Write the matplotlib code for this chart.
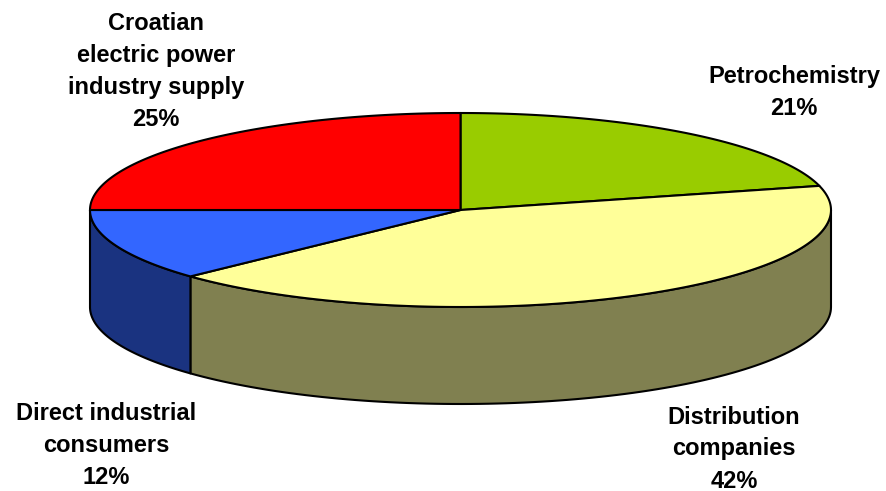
import numpy as np
import matplotlib.pyplot as plt
from matplotlib.patches import Polygon

# data
labels = ['Petrochemistry', 'Distribution\ncompanies', 'Direct industrial\nconsumers',
          'Croatian\nelectric power\nindustry supply']
shares = [21, 42, 12, 25]
top_colors = ['#99CC00', '#FFFF99', '#3366FF', '#FF0000']
side_colors = ['#4D6600', '#808050', '#1A3380', '#800000']

# geometry (pixel space)
cx, cy = 460.5, 210
rx, ry = 370.5, 97
depth = 97

fig = plt.figure(figsize=(8.87, 4.91), dpi=100)
ax = fig.add_axes([0, 0, 1, 1])
ax.set_xlim(0, 887)
ax.set_ylim(491, 0)
ax.axis('off')


def pt(a, dy=0):
    r = np.radians(a)
    return cx + rx * np.cos(r), cy - ry * np.sin(r) + dy


# angles, clockwise from 12 o'clock
fracs = np.array(shares) / sum(shares)
starts = 90 - 360 * np.concatenate([[0], np.cumsum(fracs)[:-1]])
ends = starts - 360 * fracs

# side walls (only front half, angles between -180 and 0)
for s, e, c in zip(starts, ends, side_colors):
    hi = min(s, 0)
    lo = max(e, -180)
    if hi <= lo:
        continue
    a = np.linspace(hi, lo, 100)
    top = [pt(t) for t in a]
    bot = [pt(t, depth) for t in a[::-1]]
    ax.add_patch(Polygon(top + bot, closed=True, facecolor=c, edgecolor='black',
                         linewidth=1.5, joinstyle='round'))

# top face
for s, e, c in zip(starts, ends, top_colors):
    a = np.linspace(s, e, 150)
    verts = [(cx, cy)] + [pt(t) for t in a]
    ax.add_patch(Polygon(verts, closed=True, facecolor=c, edgecolor='black',
                         linewidth=1.5, joinstyle='round'))

# labels
label_pos = [(794, 92), (734, 449), (106, 445), (156, 71)]
for lab, sh, (x, y) in zip(labels, shares, label_pos):
    ax.text(x, y, f'{lab}\n{sh}%', ha='center', va='center', fontsize=17,
            fontweight='bold', family='Liberation Sans', linespacing=1.5)

fig.savefig('out.png', dpi=100)
